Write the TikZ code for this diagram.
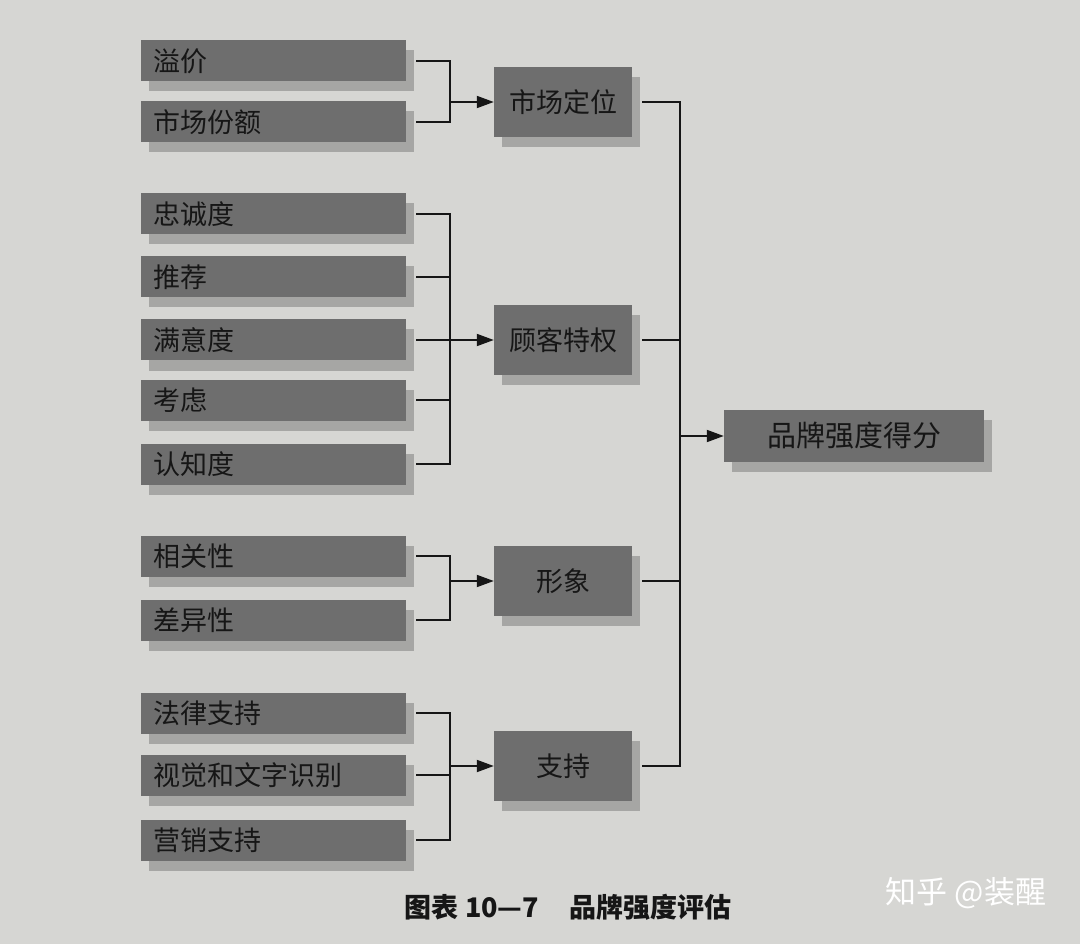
\documentclass[tikz,border=0pt]{standalone}
\usepackage{fontspec}
\setmainfont{Noto Sans CJK SC}
\usetikzlibrary{positioning,arrows.meta,shadows,calc}
\definecolor{paper}{HTML}{D6D6D3}
\definecolor{boxg}{HTML}{6E6E6E}
\definecolor{shade}{HTML}{A6A6A4}
\definecolor{ink}{HTML}{161616}

\begin{document}
\begin{tikzpicture}[x=1pt,y=-1pt,
  sh/.style={drop shadow={shadow xshift=8pt,shadow yshift=-10pt,fill=shade,opacity=1}},
  item/.style={sh,anchor=west,fill=boxg,text=ink,text width=241pt,inner xsep=12pt,inner ysep=0pt,minimum height=41pt,align=left,font=\fontsize{27}{30}\selectfont},
  mid/.style={sh,fill=boxg,text=ink,minimum width=138pt,minimum height=70pt,inner sep=0pt,font=\fontsize{27}{30}\selectfont},
  total/.style={mid,minimum width=260pt,minimum height=52pt,font=\fontsize{29}{32}\selectfont},
  ln/.style={line width=1.8pt,color=ink},
  ar/.style={ln,-{Triangle[length=17pt,width=12pt]}}]
\fill[paper] (0,0) rectangle (1080,944);
% factor boxes
\foreach \n/\t/\y in {yijia/溢价/61,fene/市场份额/122,zhongcheng/忠诚度/214,tuijian/推荐/277,
  manyi/满意度/340,kaolv/考虑/400,renzhi/认知度/464,xiangguan/相关性/556,chayi/差异性/620,
  falv/法律支持/713,shijue/视觉和文字识别/775,yingxiao/营销支持/840}
  \node[item] (\n) at (141,\y) {\t};
% dimensions
\node[mid] (dingwei) at (563,102) {市场定位};
\node[mid] (tequan) at (563,340) {顾客特权};
\node[mid] (xingxiang) at (563,581) {形象};
\node[mid] (zhichi) at (563,766) {支持};
\node[total] (score) at (854,436) {品牌强度得分};
% brackets
\coordinate (b1) at ($(dingwei.west)+(-44,0)$);
\coordinate (b2) at ($(tequan.west)+(-44,0)$);
\coordinate (b3) at ($(xingxiang.west)+(-44,0)$);
\coordinate (b4) at ($(zhichi.west)+(-44,0)$);
\coordinate (r) at ($(score.west)+(-44,0)$);
\foreach \n in {yijia,fene} \draw[ln] ([xshift=10pt]\n.east) -| (b1);
\foreach \n in {zhongcheng,tuijian,manyi,kaolv,renzhi} \draw[ln] ([xshift=10pt]\n.east) -| (b2);
\foreach \n in {xiangguan,chayi} \draw[ln] ([xshift=10pt]\n.east) -| (b3);
\foreach \n in {falv,shijue,yingxiao} \draw[ln] ([xshift=10pt]\n.east) -| (b4);
\draw[ar] (b1) -- (dingwei.west);
\draw[ar] (b2) -- (tequan.west);
\draw[ar] (b3) -- (xingxiang.west);
\draw[ar] (b4) -- (zhichi.west);
\foreach \n in {dingwei,tequan,xingxiang,zhichi} \draw[ln] ([xshift=10pt]\n.east) -| (r);
\draw[ar] (r) -- (score.west);
% caption and mark
\node[text=ink,font=\fontsize{27}{30}\selectfont\bfseries] (cap) at (568,907) {图表 10—7\hspace{30pt}品牌强度评估};
\node[text=white,font=\fontsize{31}{34}\selectfont] (mark) at (966,893) {知乎 @装醒};
\end{tikzpicture}
\end{document}
